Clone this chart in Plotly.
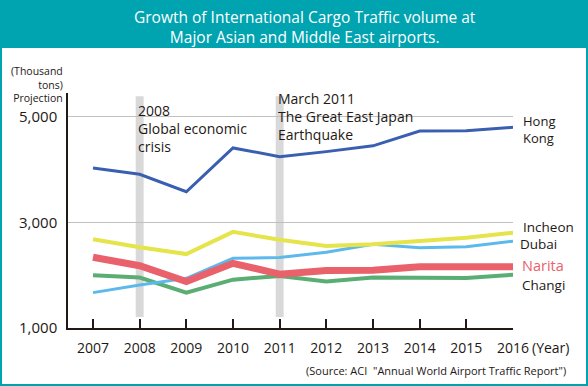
import plotly.graph_objects as go

years = [2007, 2008, 2009, 2010, 2011, 2012, 2013, 2014, 2015, 2016]
hong_kong = [4030, 3910, 3580, 4410, 4245, 4340, 4450, 4730, 4735, 4800]
incheon = [2680, 2530, 2400, 2820, 2670, 2555, 2585, 2645, 2710, 2805]
dubai = [1670, 1815, 1940, 2320, 2335, 2435, 2585, 2520, 2540, 2645]
narita = [2340, 2180, 1880, 2225, 2020, 2090, 2095, 2160, 2160, 2160]
changi = [2000, 1955, 1670, 1915, 1985, 1880, 1955, 1945, 1945, 2010]

series = [
    ("Changi", changi, "#5bae73", 4),
    ("Dubai", dubai, "#5db9ec", 3),
    ("Incheon", incheon, "#e5e44a", 4),
    ("Hong Kong", hong_kong, "#3a5fb0", 3),
    ("Narita", narita, "#e9616b", 7),
]

event_years = [2008, 2011]
y_ticks = [1000, 3000, 5000]
y_tick_labels = ["1,000", "3,000", "5,000"]

FONT = "Open Sans"
DARK = "#231815"
TEAL = "#00a3b0"

W, H = 588, 386
L, R, T, B = 68, 75, 93, 58
PW, PH = W - L - R, H - T - B

def px(x):
    return (x - L) / PW

def py(y):
    return (H - B - y) / PH

fig = go.Figure()
for name, vals, color, width in series:
    fig.add_trace(go.Scatter(x=years, y=vals, mode="lines", name=name,
                             line=dict(color=color, width=width), hoverinfo="skip"))

shapes = [
    dict(type="rect", xref="paper", yref="paper", x0=px(2), x1=px(586), y0=py(384), y1=py(48),
         fillcolor="white", line=dict(width=0), layer="below"),
]
for ey in event_years:
    shapes.append(dict(type="rect", xref="x", yref="y", x0=ey - 0.085, x1=ey + 0.085,
                       y0=1210, y1=5390, fillcolor="#d9d9d9", line=dict(width=0), layer="below"))

def note(text, x, y, size=14, color=DARK, xanchor="left", align="left"):
    return dict(text=text, x=px(x), y=py(y), xref="paper", yref="paper", showarrow=False,
                align=align, xanchor=xanchor, yanchor="middle",
                font=dict(family=FONT, size=size, color=color))

annotations = [
    note("Growth of International Cargo Traffic volume at<br>Major Asian and Middle East airports.",
         305, 27, size=15.5, color="white", xanchor="center", align="center"),
    note("(Thousand<br>tons)<br>Projection", 65, 84, size=10.5, xanchor="right", align="right"),
    note("2008<br>Global economic<br>crisis", 136, 128),
    note("March 2011<br>The Great East Japan<br>Earthquake", 276, 116),
    note("Hong<br>Kong", 521, 129, size=13),
    note("Incheon", 521, 227, size=13.5),
    note("Dubai", 518, 244, size=13.5),
    note("Narita", 520, 265.5, size=14.5, color="#e9616b"),
    note("Changi", 520, 284.5, size=13.5),
    note("(Year)", 530, 347, size=14),
    note("(Source: ACI  \"Annual World Airport Traffic Report\")", 568, 370, size=11, xanchor="right"),
]

fig.update_layout(
    width=W, height=H,
    margin=dict(l=L, r=R, t=T, b=B, pad=0),
    paper_bgcolor=TEAL, plot_bgcolor="white",
    showlegend=False,
    shapes=shapes, annotations=annotations,
    font=dict(family=FONT, color=DARK),
    xaxis=dict(range=[2007 - 25 / 46.67, 2016], tickmode="array", tickvals=years,
               ticktext=[str(y) for y in years], ticks="inside", ticklen=9, tickwidth=1.5,
               tickcolor=DARK, showline=True, linecolor=DARK, linewidth=1.5, showgrid=False,
               zeroline=False, tickfont=dict(family=FONT, size=14, color=DARK),
               ticklabelstandoff=6),
    yaxis=dict(range=[1000, 5450], tickmode="array", tickvals=y_ticks, ticktext=y_tick_labels,
               ticks="", showline=True, linecolor=DARK, linewidth=1.5, showgrid=True,
               gridcolor="#c0c0c0", gridwidth=1, zeroline=False,
               tickfont=dict(family=FONT, size=15, color=DARK), ticklabelstandoff=6),
)

fig.write_html("out.html", config={"displayModeBar": False},
               post_script="document.body.style.margin='0';document.body.style.overflow='hidden';")
